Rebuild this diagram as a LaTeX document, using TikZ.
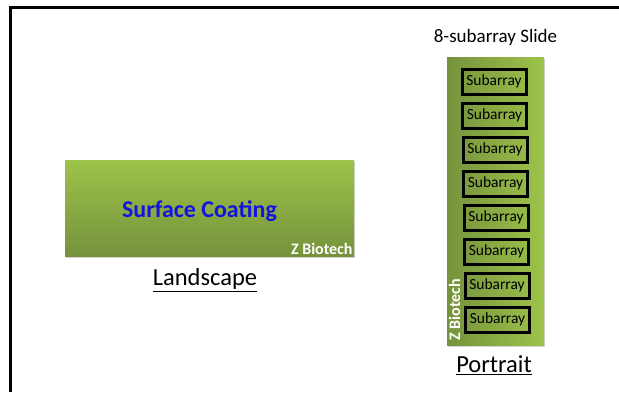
\documentclass[tikz,border=0pt]{standalone}
\usepackage{fontspec}
\setmainfont{Carlito}
\usepackage{tikz}
\usetikzlibrary{positioning,shadows}

\definecolor{slidelight}{RGB}{157,195,74}
\definecolor{slidedark}{RGB}{118,146,60}
\definecolor{coatblue}{RGB}{20,20,225}

\begin{document}
\begin{tikzpicture}[x=1pt, y=-1pt, node distance = 4pt,
  slide/.style = {inner sep=0pt, drop shadow={shadow xshift=1pt, shadow yshift=-2pt, opacity=0.35}},
  subarray/.style = {draw, line width=3pt, minimum width=64pt, minimum height=25pt, inner sep=0pt, font=\fontsize{15.5}{15.5}\selectfont},
  brand/.style = {text=white, font=\bfseries\fontsize{16}{16}\selectfont, inner sep=1.5pt},
  caption/.style = {font=\fontsize{24.5}{24.5}\selectfont}]
\useasboundingbox (0,0) rectangle (619,392);
\draw [line width=3pt] (10,392) -- (10,7) -- (619,7);

% landscape slide
\node [slide, minimum width=289pt, minimum height=96pt, top color=slidelight, bottom color=slidedark] (land) at (209.5,208) {};
\node [text=coatblue, font=\bfseries\fontsize{24}{24}\selectfont] (coat) at (199.5,211) {Surface Coating};
\node [brand, anchor=south east] (zland) at (land.south east) {Z Biotech};
\node [caption, xshift=-4.5pt] (landcap) [below = 9pt of land] {\underline{Landscape}};

% portrait slide
\node [slide, minimum width=97pt, minimum height=288pt, left color=slidedark, right color=slidelight] (port) at (495.5,201) {};
\node [font=\fontsize{19}{19}\selectfont] (porttitle) [above = 8pt of port] {8-subarray Slide};
\foreach \i in {1,...,8}
  \node [subarray] (sub\i) at ({494+0.5*(\i-1)}, {81.5+34*(\i-1)}) {Subarray};
\node [brand, rotate=90] (zport) at (454.5,310) {Z Biotech};
\node [caption, xshift=-1.5pt] (portcap) [below = 7pt of port] {\underline{Portrait}};
\end{tikzpicture}
\end{document}
